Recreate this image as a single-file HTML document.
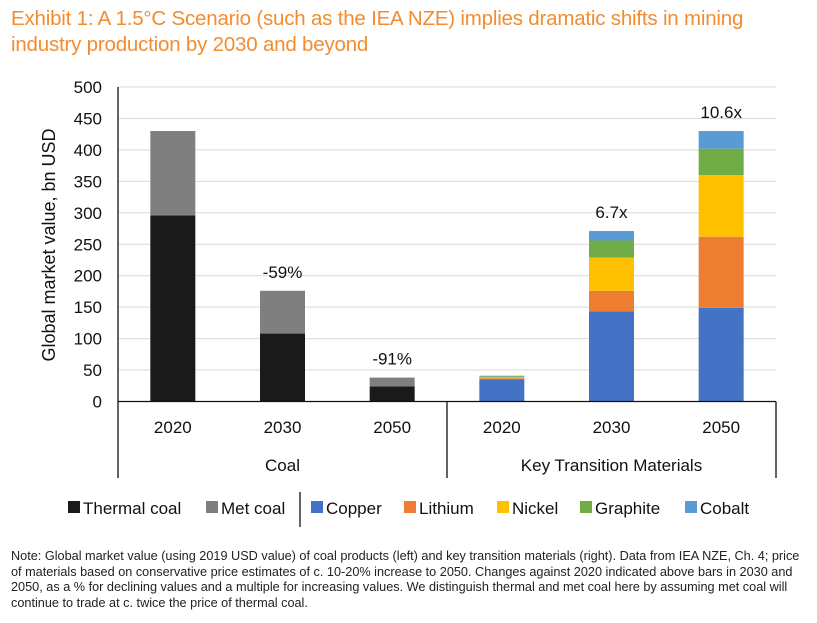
<!DOCTYPE html>
<html><head><meta charset="utf-8">
<style>
html,body{margin:0;padding:0;background:#fff;}
body{width:817px;height:623px;overflow:hidden;position:relative;font-family:"Liberation Sans",sans-serif;}
.title{position:absolute;left:11px;top:6px;color:#F28C2E;font-size:20.5px;line-height:26px;letter-spacing:-0.2px;}
.note{position:absolute;left:11px;top:549px;width:800px;color:#222;font-size:12.7px;line-height:15.5px;}
svg{position:absolute;left:0;top:0;}
svg text{font-family:"Liberation Sans",sans-serif;fill:#111;}
</style></head><body>
<div class="title">Exhibit 1: A 1.5°C Scenario (such as the IEA NZE) implies dramatic shifts in mining<br>industry production by 2030 and beyond</div>
<svg id="chart" width="817" height="623"></svg>
<div class="note">Note: Global market value (using 2019 USD value) of coal products (left) and key transition materials (right). Data from IEA NZE, Ch. 4; price of materials based on conservative price estimates of c. 10-20% increase to 2050. Changes against 2020 indicated above bars in 2030 and 2050, as a % for declining values and a multiple for increasing values. We distinguish thermal and met coal here by assuming met coal will continue to trade at c. twice the price of thermal coal.</div>
<script>
const categories = ["2020","2030","2050","2020","2030","2050"];
const groups = ["Coal","Key Transition Materials"];
const thermalCoal = [296,108,24,0,0,0];
const metCoal = [134,68,14,0,0,0];
const copper = [0,0,0,35,143,149];
const lithium = [0,0,0,2,33,113];
const nickel = [0,0,0,2,53,98];
const graphite = [0,0,0,1,27,42];
const cobalt = [0,0,0,1,15,28];
const changeLabels = ["","-59%","-91%","","6.7x","10.6x"];
const yTicks = [0,50,100,150,200,250,300,350,400,450,500];

const NS="http://www.w3.org/2000/svg";
const svg=document.getElementById('chart');
const x0=118, x1=776, y0=401.5, yTop=87, yMax=500;
const y=v=>y0-(v/yMax)*(y0-yTop);
const band=(x1-x0)/categories.length;
const xc=i=>x0+band*(i+0.5);
const bw=45;
function mk(tag,attrs,txt){const e=document.createElementNS(NS,tag);for(const k in attrs)e.setAttribute(k,attrs[k]);if(txt!==undefined)e.textContent=txt;svg.appendChild(e);return e;}

yTicks.forEach(t=>{
  if(t>0){const g=mk('line',{x1:x0,x2:x1,y1:y(t),y2:y(t),stroke:'#d9d9d9','stroke-width':1});
  
  }
  const l=mk('text',{x:x0-16,y:y(t)+6,'text-anchor':'end','font-size':17},String(t));
  
  
});
const yt=mk('text',{x:0,y:0,'text-anchor':'middle','font-size':18,transform:'translate(55,245) rotate(-90)'},'Global market value, bn USD');



const series=[["thermal-coal",thermalCoal,"#1a1a1a"],["met-coal",metCoal,"#7f7f7f"],["copper",copper,"#4472C4"],["lithium",lithium,"#ED7D31"],["nickel",nickel,"#FFC000"],["graphite",graphite,"#70AD47"],["cobalt",cobalt,"#5B9BD5"]];
categories.forEach((c,i)=>{
  let acc=0;
  series.forEach(([n,arr,col])=>{
    const v=arr[i]; if(!v) return;
    const r=mk('rect',{x:xc(i)-bw/2,y:y(acc+v),width:bw,height:y(acc)-y(acc+v),fill:col});
    
    
    acc+=v;
  });
  if(changeLabels[i]){const t=mk('text',{x:xc(i),y:y(acc)-13,'text-anchor':'middle','font-size':17},changeLabels[i]);
    
    }
  const cl=mk('text',{x:xc(i),y:433,'text-anchor':'middle','font-size':17},c);
  
  
});
const ax=mk('line',{x1:x0,x2:x0,y1:yTop,y2:478,stroke:'#111','stroke-width':1.3});


const bx=mk('line',{x1:x0,x2:x1,y1:y0,y2:y0,stroke:'#111','stroke-width':1.3});


[x0+band*3,x1].forEach((xx,k)=>{const d=mk('line',{x1:xx,x2:xx,y1:y0,y2:478,stroke:'#111','stroke-width':1.3});
  
  });
groups.forEach((g,k)=>{const t=mk('text',{x:x0+band*(1.5+3*k),y:471,'text-anchor':'middle','font-size':17},g);
  
  });

const legendItems=[["Thermal coal","#1a1a1a",68],["Met coal","#7f7f7f",206],["Copper","#4472C4",311],["Lithium","#ED7D31",404],["Nickel","#FFC000",497],["Graphite","#70AD47",580],["Cobalt","#5B9BD5",685]];
legendItems.forEach(([n,col,lx])=>{
  const s=mk('rect',{x:lx,y:501,width:12,height:12,fill:col});
  
  
  const t=mk('text',{x:lx+15,y:514,'font-size':17},n);
  
  
});
const sep=mk('line',{x1:300,x2:300,y1:492,y2:527,stroke:'#111','stroke-width':1.3});


</script>
</body></html>
